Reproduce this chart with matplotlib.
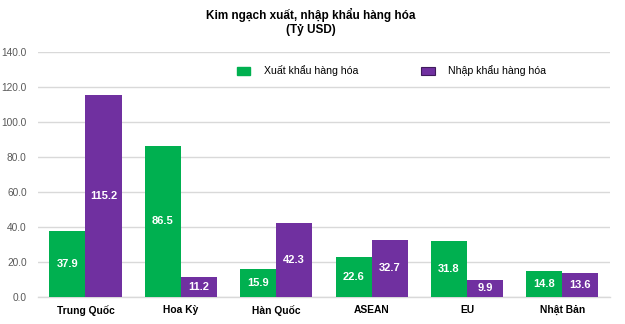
import numpy as np
import matplotlib
matplotlib.use('Agg')
import matplotlib.pyplot as plt
from matplotlib.patches import Patch

plt.rcParams['font.family'] = ['Liberation Sans', 'DejaVu Sans']

# data
categories = ['Trung Quốc', 'Hoa Kỳ', 'Hàn Quốc', 'ASEAN', 'EU', 'Nhật Bản']
exports = [37.9, 86.5, 15.9, 22.6, 31.8, 14.8]
imports = [115.2, 11.2, 42.3, 32.7, 9.9, 13.6]
yticks = [0, 20, 40, 60, 80, 100, 120, 140]

green = '#00B050'
purple = '#7030A0'

fig = plt.figure(figsize=(6.25, 3.24), dpi=100)
ax = fig.add_axes([0.0605, 0.0833, 0.9155, 0.7562])

x = np.arange(len(categories))
w = 0.378
b1 = ax.bar(x - w / 2, exports, w, color=green, zorder=3)
b2 = ax.bar(x + w / 2, imports, w, color=purple, zorder=3)

# value labels in the middle of each bar
for bars in (b1, b2):
    ax.bar_label(bars, labels=[f'{v:.1f}' for v in bars.datavalues],
                 label_type='center', color='white', fontsize=8, fontweight='bold')

ax.set_xlim(-0.5, len(categories) - 0.5)
ax.set_ylim(0, 140)
ax.set_yticks(yticks)
ax.set_yticklabels([f'{v:.1f}' for v in yticks])
ax.set_xticks(x)
ax.set_xticklabels(categories, fontweight='bold')
ax.tick_params(axis='y', length=0, pad=8, labelsize=7.3, labelcolor='#595959')
ax.tick_params(axis='x', length=0, pad=6, labelsize=7.4, labelcolor='black')
ax.grid(axis='y', color='#D9D9D9', linewidth=1, zorder=0)
for s in ['top', 'right', 'left']:
    ax.spines[s].set_visible(False)
ax.spines['bottom'].set_color('#D9D9D9')
ax.spines['bottom'].set_linewidth(1)

fig.text(0.497, 0.932, 'Kim ngạch xuất, nhập khẩu hàng hóa\n(Tỷ USD)',
         ha='center', va='center', fontsize=8.5, fontweight='bold', linespacing=1.2)

handles = [Patch(facecolor=green, edgecolor=green),
           Patch(facecolor=purple, edgecolor='#3F1B5C', linewidth=0.8)]
fig.legend(handles, ['Xuất khẩu hàng hóa', 'Nhập khẩu hàng hóa'], ncol=2,
           loc='center', bbox_to_anchor=(0.6264, 0.781), frameon=False,
           fontsize=7.6, handlelength=1.25, handleheight=0.75,
           handletextpad=1.3, columnspacing=6.0)

fig.savefig('out.png', dpi=100)
